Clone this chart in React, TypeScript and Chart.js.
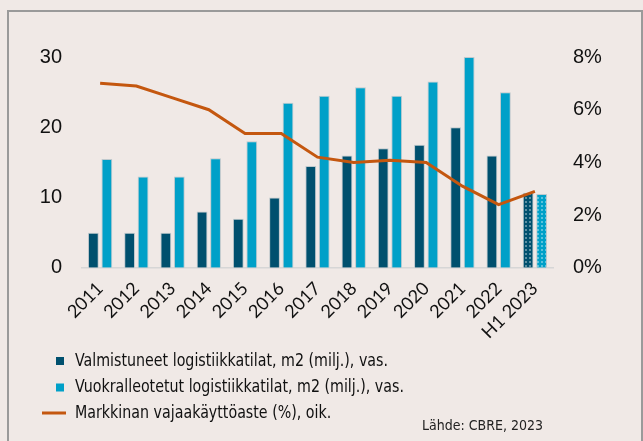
import React, { useEffect, useRef } from "react";
import { Chart, registerables } from "chart.js";

Chart.register(...registerables);

// ---- data ----
const categories = ["2011", "2012", "2013", "2014", "2015", "2016", "2017", "2018", "2019", "2020", "2021", "2022", "H1 2023"];
const completed = [5, 5, 5, 8, 7, 10, 14.5, 16, 17, 17.5, 20, 16, 10.7];
const leased = [15.5, 13, 13, 15.6, 18, 23.5, 24.5, 25.7, 24.5, 26.5, 30, 25, 10.5];
const vacancy = [7.0, 6.9, 6.45, 6.0, 5.1, 5.1, 4.2, 4.0, 4.08, 4.0, 3.1, 2.4, 2.9];
const leftTicks = [0, 10, 20, 30];
const rightTicks = [0, 2, 4, 6, 8];
const seriesNames = [
  "Valmistuneet logistiikkatilat, m2 (milj.), vas.",
  "Vuokralleotetut logistiikkatilat, m2 (milj.), vas.",
  "Markkinan vajaakäyttöaste (%), oik.",
];
const sourceText = "Lähde: CBRE, 2023";

const DARK = "#00506e";
const LIGHT = "#00a0c8";
const ORANGE = "#c4570f";
const BG = "#f0e9e6";

const LEGEND_FONT = '17.5px "Liberation Sans Narrow", "DejaVu Sans Condensed", "Roboto", sans-serif';
const SOURCE_FONT = '14px "Liberation Sans Narrow", "DejaVu Sans Condensed", "Roboto", sans-serif';
const TICK_FONT_FAMILY = '"Liberation Sans", Arial, sans-serif';

function makePattern(base: string): CanvasPattern | string {
  const c = document.createElement("canvas");
  c.width = 4;
  c.height = 4;
  const x = c.getContext("2d");
  if (!x) return base;
  x.fillStyle = base;
  x.fillRect(0, 0, 4, 4);
  x.fillStyle = "#ffffff";
  x.fillRect(1.4, 1.4, 1.2, 1.2);
  const p = x.createPattern(c, "repeat");
  return p || base;
}

const legendPlugin = {
  id: "customLegend",
  afterDraw(chart: any) {
    const ctx = chart.ctx as CanvasRenderingContext2D;
    ctx.save();
    const rows = [361, 387.5, 413];
    const textX = 75;
    ctx.fillStyle = DARK;
    ctx.fillRect(56, rows[0] - 4, 8, 8);
    ctx.fillStyle = LIGHT;
    ctx.fillRect(56, rows[1] - 4, 8, 8);
    ctx.strokeStyle = ORANGE;
    ctx.lineWidth = 3;
    ctx.beginPath();
    ctx.moveTo(42, rows[2]);
    ctx.lineTo(66, rows[2]);
    ctx.stroke();
    ctx.font = LEGEND_FONT;
    ctx.textBaseline = "middle";
    ctx.textAlign = "left";
    ctx.fillStyle = "#111111";
    const target = 313;
    const w0 = ctx.measureText(seriesNames[0]).width || target;
    const sx = Math.min(1, target / w0);
    seriesNames.forEach((t, i) => {
      ctx.save();
      ctx.translate(textX, rows[i]);
      ctx.scale(sx, 1);
      ctx.fillText(t, 0, 0);
      ctx.restore();
    });
    ctx.font = SOURCE_FONT;
    ctx.fillStyle = "#222222";
    ctx.textAlign = "right";
    ctx.fillText(sourceText, 543, 426);
    ctx.restore();
  },
};

export default function App() {
  const ref = useRef<HTMLCanvasElement | null>(null);
  useEffect(() => {
    if (!ref.current) return;
    const darkColors: any[] = completed.map((_, i) => (i === completed.length - 1 ? makePattern(DARK) : DARK));
    const lightColors: any[] = leased.map((_, i) => (i === leased.length - 1 ? makePattern(LIGHT) : LIGHT));
    const barCommon = {
      yAxisID: "y",
      barPercentage: 0.8,
      categoryPercentage: 0.745,
      borderWidth: 1,
      borderColor: "rgba(175,190,196,0.75)",
      order: 1,
    };
    const chart = new Chart(ref.current, {
      type: "bar",
      data: {
        labels: categories,
        datasets: [
          {
            type: "line",
            label: seriesNames[2],
            data: vacancy,
            yAxisID: "y1",
            borderColor: ORANGE,
            borderWidth: 3,
            pointRadius: 0,
            tension: 0,
            order: 0,
          } as any,
          { ...barCommon, label: seriesNames[0], data: completed, backgroundColor: darkColors } as any,
          { ...barCommon, label: seriesNames[1], data: leased, backgroundColor: lightColors } as any,
        ],
      },
      options: {
        responsive: false,
        animation: false,
        layout: { padding: { left: 40, right: 41, top: 57, bottom: 96 } },
        plugins: {
          legend: { display: false },
          tooltip: { enabled: false },
        },
        scales: {
          x: {
            grid: { display: false },
            border: { display: true, color: "#d6d6d6", width: 1.5 },
            afterFit: (s: any) => {
              s.paddingLeft = 0;
              s.paddingRight = 0;
            },
            ticks: {
              autoSkip: false,
              minRotation: 45,
              maxRotation: 45,
              padding: 2,
              color: "#111111",
              font: { family: '"Lato", "Liberation Sans", sans-serif', size: 18 },
            },
          },
          y: {
            position: "left",
            min: 0,
            max: 30,
            afterBuildTicks: (s: any) => {
              s.ticks = leftTicks.map((v) => ({ value: v }));
            },
            afterFit: (s: any) => {
              s.width = 42;
            },
            grid: { display: false, drawTicks: false },
            border: { display: false },
            ticks: {
              padding: 20,
              color: "#111111",
              font: { family: TICK_FONT_FAMILY, size: 20 },
            },
          },
          y1: {
            position: "right",
            min: 0,
            max: 8,
            afterBuildTicks: (s: any) => {
              s.ticks = rightTicks.map((v) => ({ value: v }));
            },
            afterFit: (s: any) => {
              s.width = 49;
            },
            grid: { display: false, drawTicks: false },
            border: { display: false },
            ticks: {
              padding: 20,
              color: "#111111",
              font: { family: TICK_FONT_FAMILY, size: 20 },
              callback: (v: any) => `${v}%`,
            },
          },
        },
      },
      plugins: [legendPlugin],
    });
    return () => chart.destroy();
  }, []);

  return (
    <div style={{ position: "absolute", left: 0, top: 0, width: 643, height: 441, background: BG, overflow: "hidden" }}>
      <div
        style={{
          position: "absolute",
          left: 7,
          top: 10,
          width: 632,
          height: 460,
          border: "2px solid #9a9a9a",
          boxSizing: "content-box",
        }}
      />
      <canvas ref={ref} width={643} height={441} style={{ position: "absolute", left: 0, top: 0 }} />
    </div>
  );
}
